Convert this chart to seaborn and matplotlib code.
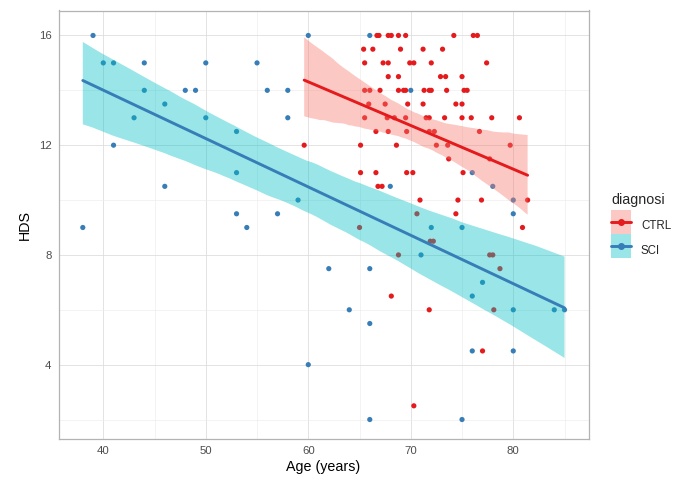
import numpy as np
import pandas as pd
import matplotlib
matplotlib.use("Agg")
import matplotlib.pyplot as plt
import seaborn as sns
from matplotlib.lines import Line2D
from matplotlib.patches import Patch, Rectangle
from matplotlib.legend_handler import HandlerPatch
from matplotlib.ticker import MultipleLocator

# ---- data ----
groups = ["CTRL", "SCI"]

ctrl_age = [66.7, 66.9, 67.8, 68.1, 68.8, 69.5, 74.2, 76.1, 76.5,
            65.4, 66.3, 69.0, 71.2, 73.1,
            65.5, 67.3, 67.8, 69.9, 70.3, 72.0, 77.4,
            67.8, 68.8, 72.9, 73.4, 75.0,
            65.5, 66.0, 67.0, 68.8, 69.3, 69.5, 71.3, 71.8, 72.0, 73.5, 75.2, 75.5,
            65.9, 67.5, 69.7, 71.2, 74.4, 75.0,
            65.5, 67.7, 68.4, 69.5, 71.5, 71.8, 73.3, 75.0, 75.9, 77.9, 80.6,
            66.6, 67.8, 69.6, 71.8, 72.3, 76.7,
            59.6, 65.1, 68.6, 72.5, 73.6, 79.7,
            73.7, 77.7,
            65.1, 66.6, 69.6, 70.2, 75.1,
            66.8, 67.2,
            70.9, 74.6, 76.9, 81.4,
            70.6, 74.4,
            65.0, 80.9,
            71.9, 72.2,
            68.8, 77.7, 78.0,
            78.7,
            68.1,
            71.8, 78.1,
            77.0,
            70.3]
ctrl_hds = [16] * 9 + [15.5] * 5 + [15] * 7 + [14.5] * 5 + [14] * 12 + [13.5] * 6 + \
           [13] * 11 + [12.5] * 6 + [12] * 6 + [11.5] * 2 + [11] * 5 + [10.5] * 2 + \
           [10] * 4 + [9.5] * 2 + [9] * 2 + [8.5] * 2 + [8] * 3 + [7.5] + [6.5] + \
           [6] * 2 + [4.5] + [2.5]

sci_age = [39, 38, 40, 41, 44, 50, 55, 44, 48, 49, 56, 58, 46, 43, 50, 58, 53, 41,
           46, 53, 59, 53, 54, 57, 60, 66, 70, 76, 68, 78, 80, 80, 72, 75, 62, 66,
           71, 77, 76, 64, 80, 84, 85, 66, 76, 80, 60, 66, 75]
sci_hds = [16, 9, 15, 15, 15, 15, 15, 14, 14, 14, 14, 14, 13.5, 13, 13, 13, 12.5, 12,
           10.5, 11, 10, 9.5, 9, 9.5, 16, 16, 14, 11, 10.5, 10.5, 10, 9.5, 9, 9, 7.5, 7.5,
           8, 7, 6.5, 6, 6, 6, 6, 5.5, 4.5, 4.5, 4, 2, 2]

point_colors = {"CTRL": "#E41A1C", "SCI": "#377EB8"}
band_colors = {"CTRL": "#F8766D", "SCI": "#00BFC4"}
ci_levels = {"CTRL": 95, "SCI": 97.5}

df = pd.DataFrame({
    "age": ctrl_age + sci_age,
    "hds": ctrl_hds + sci_hds,
    "diagnosi": ["CTRL"] * len(ctrl_age) + ["SCI"] * len(sci_age),
})

sns.set_style("white")
plt.rcParams["font.family"] = ["Liberation Sans", "DejaVu Sans"]

fig = plt.figure(figsize=(6.84, 4.82), dpi=100)
ax = fig.add_axes([58.5 / 684, 1 - 439 / 482, (588.5 - 58.5) / 684, (439 - 10.5) / 482])

sns.scatterplot(data=df, x="age", y="hds", hue="diagnosi", hue_order=groups,
                palette=point_colors, s=14, linewidth=0, legend=False, ax=ax)

for g in groups:
    sub = df[df["diagnosi"] == g]
    n0 = len(ax.collections)
    sns.regplot(data=sub, x="age", y="hds", scatter=False, ci=ci_levels[g], seed=3,
                color=point_colors[g], line_kws={"lw": 2.1}, ax=ax)
    for coll in ax.collections[n0:]:
        coll.set_facecolor(band_colors[g])
        coll.set_alpha(0.4)
        coll.set_edgecolor("none")

ax.set_xlim(35.63, 87.34)
ax.set_ylim(1.29, 16.91)
ax.xaxis.set_minor_locator(MultipleLocator(5))
ax.yaxis.set_minor_locator(MultipleLocator(2))
ax.set_xticks([40, 50, 60, 70, 80])
ax.set_yticks([4, 8, 12, 16])

ax.set_axisbelow(True)
ax.grid(which="major", color="#dedede", lw=0.6)
ax.grid(which="minor", color="#ececec", lw=0.45)
for s in ax.spines.values():
    s.set_color("#b3b3b3")
    s.set_linewidth(0.9)
    s.set_visible(True)
ax.tick_params(which="major", length=3, width=0.6, color="#b3b3b3",
               labelsize=8.2, labelcolor="#4d4d4d", pad=2)
ax.tick_params(which="minor", length=0)

ax.set_xlabel("Age (years)", fontsize=10.3, color="black", labelpad=3)
ax.set_ylabel("HDS", fontsize=10.3, color="black", labelpad=5)


def band_patch(legend, orig_handle, xdescent, ydescent, width, height, fontsize):
    cy = (height - ydescent) / 2
    return Rectangle((-xdescent, cy - height / 2), width, height)


handles = []
for g in groups:
    patch = Patch(facecolor=band_colors[g], alpha=0.4, edgecolor="none")
    line = Line2D([], [], color=point_colors[g], lw=2.1, marker="o", markersize=4)
    handles.append((patch, line))
leg = fig.legend(handles, groups, title="diagnosi", loc="upper left",
                 bbox_to_anchor=(611 / 684, 1 - 193 / 482), frameon=False,
                 borderpad=0, borderaxespad=0,
                 handler_map={Patch: HandlerPatch(patch_func=band_patch)},
                 fontsize=8.3, title_fontsize=10.3, handlelength=1.73, handleheight=2.85,
                 labelspacing=0.0, handletextpad=0.87)
leg._legend_box.align = "left"
leg._legend_box.sep = 5

fig.savefig("out.png", dpi=100)
